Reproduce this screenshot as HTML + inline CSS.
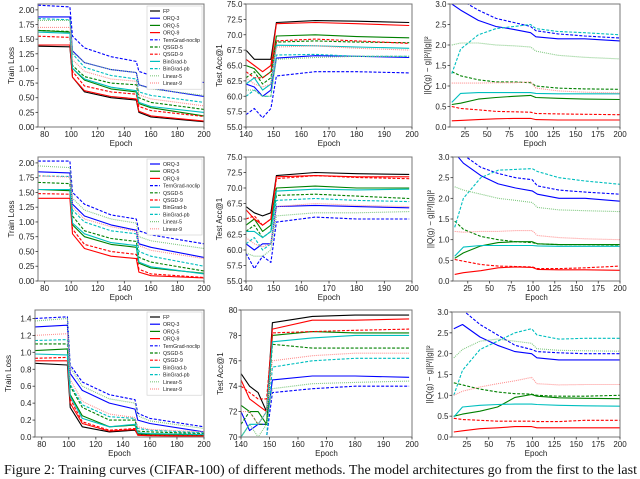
<!DOCTYPE html>
<html><head><meta charset="utf-8">
<style>
html,body{margin:0;padding:0;background:#fff;width:640px;height:472px;overflow:hidden}
svg{display:block;font-family:"Liberation Sans",sans-serif}
.cap{position:absolute;left:4px;top:463px;font-family:"Liberation Serif",serif;font-size:14px;white-space:nowrap;color:#111}
</style></head>
<body>
<svg id="fig" width="640" height="472" viewBox="0 0 640 472"></svg>
<div class="cap">Figure 2: Training curves (CIFAR-100) of different methods. The model architectures go from the first to the last</div>
<script>
// ---- shared x grids ----
const lossEpochs = [75, 99, 101, 110, 130, 149, 151, 160, 200];
const accEpochs = [140, 143, 146, 149, 151, 165, 180, 199];
const varEpochs = [10, 20, 40, 60, 80, 99, 105, 130, 160, 200];

// ---- tick labels ----
const lossXTicks = [80, 100, 120, 140, 160, 180, 200];
const lossYTicksA = [0, 0.25, 0.5, 0.75, 1.0, 1.25, 1.5, 1.75, 2.0];
const lossYTicksC = [0, 0.2, 0.4, 0.6, 0.8, 1.0, 1.2, 1.4];
const accXTicks = [140, 150, 160, 170, 180, 190, 200];
const accYTicksA = [55, 57.5, 60, 62.5, 65, 67.5, 70, 72.5, 75];
const accYTicksC = [70, 72, 74, 76, 78, 80];
const varXTicks = [25, 50, 75, 100, 125, 150, 175, 200];
const varYTicks = [0, 0.5, 1.0, 1.5, 2.0, 2.5, 3.0];

const seriesNames = ["FP","ORQ-3","ORQ-5","ORQ-9","TernGrad-noclip","QSGD-5","QSGD-9","BinGrad-b","BinGrad-pb","Linear-5","Linear-9"];

// ---- Row 1 ----
const r1Loss = {
 "FP":[1.38,1.37,0.85,0.6,0.5,0.46,0.25,0.17,0.09],
 "ORQ-3":[1.88,1.88,1.3,1.1,0.98,0.93,0.72,0.66,0.52],
 "ORQ-5":[1.65,1.62,1.0,0.8,0.65,0.6,0.4,0.33,0.19],
 "ORQ-9":[1.40,1.40,0.85,0.62,0.52,0.48,0.27,0.19,0.1],
 "TernGrad-noclip":[2.08,2.05,1.55,1.35,1.2,1.12,0.95,0.88,0.76],
 "QSGD-5":[1.65,1.63,1.05,0.86,0.75,0.72,0.5,0.42,0.3],
 "QSGD-9":[1.55,1.53,0.95,0.7,0.6,0.56,0.35,0.28,0.18],
 "BinGrad-b":[1.62,1.6,1.0,0.82,0.68,0.62,0.42,0.35,0.25],
 "BinGrad-pb":[1.85,1.83,1.25,1.02,0.88,0.82,0.6,0.54,0.42],
 "Linear-5":[1.82,1.82,1.28,1.1,0.98,0.93,0.72,0.65,0.54],
 "Linear-9":[1.7,1.7,1.15,0.95,0.82,0.78,0.55,0.48,0.36]
};
const r1Acc = {
 "FP":[67.5,66,66,66,72,72.3,72.2,72],
 "ORQ-3":[62,61.5,60,61,66.2,66.6,66.5,66.3],
 "ORQ-5":[65,64.5,63,64,69.8,70,69.7,69.5],
 "ORQ-9":[66,65,64,65,71.8,72,71.8,71.5],
 "TernGrad-noclip":[57,58,56.5,58,63.3,64,64,63.8],
 "QSGD-5":[63,64,62,63,68.8,69,68.8,68.7],
 "QSGD-9":[64,63,63,64,69,69.3,69,68.6],
 "BinGrad-b":[62,63,61,62,68.3,68.2,68,67.8],
 "BinGrad-pb":[60,61,60,60,66.7,66.8,66.5,66.5],
 "Linear-5":[61,61,60,60,66,66.3,66.5,66.5],
 "Linear-9":[63,62,61.5,62,68,68.2,67.8,67.5]
};
const r1Var = {
 "ORQ-3":[3.0,2.85,2.6,2.45,2.38,2.3,2.2,2.15,2.15,2.1],
 "TernGrad-noclip":[3.3,3.1,2.85,2.65,2.55,2.45,2.35,2.27,2.22,2.17],
 "BinGrad-pb":[1.3,1.9,2.25,2.4,2.45,2.5,2.4,2.33,2.3,2.25],
 "Linear-5":[2.0,2.05,2.05,2.0,1.98,1.95,1.85,1.75,1.7,1.66],
 "QSGD-5":[1.35,1.25,1.15,1.1,1.1,1.08,1.0,0.95,0.93,0.92],
 "Linear-9":[1.07,1.07,1.07,1.08,1.08,1.1,0.95,0.88,0.85,0.83],
 "BinGrad-b":[0.6,0.82,0.84,0.84,0.84,0.84,0.82,0.81,0.81,0.81],
 "ORQ-5":[0.55,0.58,0.68,0.72,0.75,0.77,0.72,0.7,0.68,0.67],
 "QSGD-9":[0.5,0.45,0.42,0.38,0.37,0.36,0.33,0.32,0.31,0.3],
 "ORQ-9":[0.15,0.16,0.18,0.2,0.21,0.21,0.18,0.17,0.17,0.17]
};

// ---- Row 2 ----
const r2Loss = {
 "ORQ-3":[1.85,1.83,1.3,1.1,0.95,0.86,0.63,0.57,0.4],
 "ORQ-5":[1.55,1.53,0.95,0.75,0.62,0.57,0.3,0.22,0.13],
 "ORQ-9":[1.4,1.4,0.8,0.55,0.42,0.38,0.15,0.09,0.05],
 "TernGrad-noclip":[2.03,2.03,1.5,1.3,1.12,1.05,0.85,0.78,0.63],
 "QSGD-5":[1.67,1.65,1.1,0.85,0.72,0.67,0.4,0.32,0.17],
 "QSGD-9":[1.48,1.47,0.88,0.62,0.5,0.45,0.2,0.12,0.06],
 "BinGrad-b":[1.55,1.55,0.98,0.8,0.65,0.6,0.32,0.24,0.12],
 "BinGrad-pb":[1.78,1.77,1.2,1.0,0.85,0.8,0.5,0.42,0.25],
 "Linear-5":[1.95,1.92,1.4,1.2,1.05,0.98,0.75,0.68,0.55],
 "Linear-9":[1.78,1.76,1.25,1.05,0.92,0.84,0.6,0.52,0.38]
};
const r2Acc = {
 "FP":[67,66,65.5,66,72,72.5,72.3,72.2],
 "ORQ-3":[61,60,61,61,67,67.2,67,66.8],
 "ORQ-5":[64,65,63,64,70,70.3,70,70],
 "ORQ-9":[66.5,65,64,65,71.8,72,71.8,71.8],
 "TernGrad-noclip":[59.5,57,59,58,64.5,65.3,65,65],
 "QSGD-5":[63,64,62,63,68.8,69,68.7,68.3],
 "QSGD-9":[65,65.5,64,65,71.5,72,71.7,71.5],
 "BinGrad-b":[63,63,62,63,69.5,69.8,69.7,69.8],
 "BinGrad-pb":[61,62,60,61,68,68.3,68,67.8],
 "Linear-5":[59.5,59,59,60,65.5,66,66,66.2],
 "Linear-9":[62,61,60.5,61,67,67.5,67.2,67]
};
const r2Var = {
 "ORQ-3":[3.1,2.85,2.55,2.35,2.25,2.18,2.1,2.0,2.0,1.93],
 "TernGrad-noclip":[3.3,3.05,2.75,2.6,2.5,2.45,2.3,2.2,2.15,2.1],
 "BinGrad-pb":[1.3,2.0,2.5,2.68,2.7,2.72,2.65,2.5,2.42,2.34],
 "Linear-5":[2.28,2.2,2.1,2.0,1.95,1.9,1.78,1.72,1.7,1.68],
 "QSGD-5":[1.45,1.25,1.08,1.0,0.95,0.93,0.9,0.88,0.88,0.87],
 "Linear-9":[1.2,1.18,1.2,1.2,1.22,1.22,1.1,1.05,1.02,1.0],
 "BinGrad-b":[0.6,0.82,0.86,0.86,0.86,0.86,0.85,0.84,0.84,0.84],
 "ORQ-5":[0.55,0.68,0.85,0.93,0.95,0.95,0.9,0.88,0.88,0.88],
 "QSGD-9":[0.52,0.48,0.4,0.36,0.35,0.34,0.3,0.3,0.32,0.36],
 "ORQ-9":[0.16,0.2,0.25,0.32,0.34,0.33,0.28,0.27,0.27,0.26]
};

// ---- Row 3 ----
const r3Loss = {
 "FP":[0.87,0.85,0.35,0.12,0.06,0.08,0.03,0.02,0.01],
 "ORQ-3":[1.3,1.32,0.75,0.55,0.4,0.33,0.2,0.16,0.06],
 "ORQ-5":[1.02,1.04,0.5,0.25,0.12,0.14,0.04,0.03,0.02],
 "ORQ-9":[0.9,0.9,0.4,0.16,0.07,0.09,0.02,0.015,0.01],
 "TernGrad-noclip":[1.4,1.42,0.85,0.65,0.5,0.44,0.28,0.22,0.12],
 "QSGD-5":[1.1,1.1,0.6,0.35,0.2,0.2,0.07,0.06,0.04],
 "QSGD-9":[0.93,0.94,0.45,0.18,0.08,0.1,0.025,0.02,0.015],
 "BinGrad-b":[0.98,0.97,0.48,0.22,0.12,0.15,0.05,0.04,0.03],
 "BinGrad-pb":[1.14,1.15,0.62,0.38,0.24,0.22,0.1,0.08,0.05],
 "Linear-5":[1.37,1.4,0.82,0.6,0.45,0.4,0.25,0.19,0.1],
 "Linear-9":[1.2,1.22,0.68,0.42,0.27,0.23,0.12,0.09,0.06]
};
const r3Acc = {
 "FP":[75,74,73.5,72,79,79.5,79.6,79.6],
 "ORQ-3":[72,70.5,71,71,74.5,74.8,74.8,74.7],
 "ORQ-5":[72.5,72,72,71,78,78.3,78.2,78.2],
 "ORQ-9":[74.5,73,72.5,72,78.5,79.2,79.2,79.3],
 "TernGrad-noclip":[70,70,70,70,73.5,73.8,74,74],
 "QSGD-5":[71,72,71,71,77.3,77,77,77],
 "QSGD-9":[74,73.5,73,73,78.2,78.3,78.4,78.5],
 "BinGrad-b":[70,71,71,72,77.5,77.8,78,78],
 "BinGrad-pb":[70,70,70,70,75.5,76,76.2,76.2],
 "Linear-5":[70,71,70,71,73.8,74.2,74.3,74.4],
 "Linear-9":[72,72,71,72,76,76.4,76.6,76.6]
};
const r3Var = {
 "ORQ-3":[2.6,2.7,2.4,2.2,2.05,2.0,1.9,1.85,1.85,1.85],
 "TernGrad-noclip":[3.3,3.05,2.7,2.45,2.2,2.1,2.05,2.02,2.0,2.0],
 "BinGrad-pb":[1.0,1.6,2.1,2.3,2.5,2.6,2.45,2.35,2.37,2.37],
 "Linear-5":[1.9,2.1,2.3,2.35,2.3,2.25,2.12,2.08,2.07,2.06],
 "QSGD-5":[1.3,1.25,1.15,1.08,1.04,1.03,1.0,0.98,0.98,1.0],
 "Linear-9":[1.0,1.1,1.2,1.28,1.35,1.43,1.28,1.25,1.26,1.26],
 "BinGrad-b":[0.48,0.72,0.76,0.78,0.79,0.79,0.78,0.76,0.75,0.74],
 "ORQ-5":[0.5,0.55,0.62,0.72,0.95,1.02,0.98,0.94,0.93,0.92],
 "QSGD-9":[0.45,0.42,0.4,0.38,0.38,0.38,0.37,0.37,0.4,0.4],
 "ORQ-9":[0.12,0.15,0.2,0.22,0.25,0.25,0.22,0.22,0.22,0.22]
};

const styles = {
 "FP":{c:"#000000",d:""},
 "ORQ-3":{c:"#0000ff",d:""},
 "ORQ-5":{c:"#008000",d:""},
 "ORQ-9":{c:"#ff0000",d:""},
 "TernGrad-noclip":{c:"#0000ff",d:"3,1.6"},
 "QSGD-5":{c:"#008000",d:"3,1.6"},
 "QSGD-9":{c:"#ff0000",d:"3,1.6"},
 "BinGrad-b":{c:"#00bfbf",d:""},
 "BinGrad-pb":{c:"#00bfbf",d:"3,1.6"},
 "Linear-5":{c:"#80c880",d:"1,1"},
 "Linear-9":{c:"#ff9090",d:"1,1"}
};

const NS = "http://www.w3.org/2000/svg";
const svg = document.getElementById("fig");
function el(tag, attrs, parent) {
  const e = document.createElementNS(NS, tag);
  for (const k in attrs) e.setAttribute(k, attrs[k]);
  (parent || svg).appendChild(e);
  return e;
}
function fmt(v, dec) { return v.toFixed(dec); }

function panel(p) {
  const g = el("g", {});
  
  
  const sx = v => p.x0 + (v - p.xmin) / (p.xmax - p.xmin) * (p.x1 - p.x0);
  const sy = v => p.y1 - (v - p.ymin) / (p.ymax - p.ymin) * (p.y1 - p.y0);
  const clipId = "clip-" + p.name;
  const cp = el("clipPath", {id: clipId}, g);
  el("rect", {x: p.x0, y: p.y0, width: p.x1 - p.x0, height: p.y1 - p.y0}, cp);
  const lines = el("g", {"clip-path": "url(#" + clipId + ")"}, g);
  for (const name of seriesNames) {
    const vals = p.data[name];
    if (!vals) continue;
    const pts = vals.map((v, i) => sx(p.xs[i]).toFixed(1) + "," + sy(v).toFixed(1)).join(" ");
    const pl = el("polyline", {points: pts, fill: "none", stroke: styles[name].c, "stroke-width": 1.1, "stroke-dasharray": styles[name].d, "stroke-linejoin": "round"}, lines);
    
    
  }
  const frame = el("rect", {x: p.x0, y: p.y0, width: p.x1 - p.x0, height: p.y1 - p.y0, fill: "none", stroke: "#777", "stroke-width": 1}, g);
  
  
  for (const t of p.xt) {
    const x = sx(t);
    el("line", {x1: x, x2: x, y1: p.y1, y2: p.y1 + 2.5, stroke: "#333", "stroke-width": 0.8}, g);
    const tx = el("text", {x: x, y: p.y1 + 10, "font-size": 8, "text-anchor": "middle", fill: "#222"}, g);
    tx.textContent = t;
    
    
  }
  for (const t of p.yt) {
    const y = sy(t);
    el("line", {x1: p.x0 - 2.5, x2: p.x0, y1: y, y2: y, stroke: "#333", "stroke-width": 0.8}, g);
    const ty = el("text", {x: p.x0 - 3.5, y: y + 3, "font-size": 8, "text-anchor": "end", fill: "#222"}, g);
    ty.textContent = fmt(t, p.ydec);
    
    
  }
  const xl = el("text", {x: (p.x0 + p.x1) / 2, y: p.y1 + 19, "font-size": 8, "text-anchor": "middle", fill: "#222"}, g);
  xl.textContent = "Epoch";
  
  
  const ylx = p.x0 - p.ylOff, yly = (p.y0 + p.y1) / 2;
  const yl = el("text", {x: ylx, y: yly, "font-size": 8, "text-anchor": "middle", fill: "#222", transform: "rotate(-90 " + ylx + " " + yly + ")"}, g);
  yl.textContent = p.ylabel;
  
  
  if (p.legend) {
    const names = seriesNames.filter(n => p.data[n]);
    const lg = el("g", {}, g);
    
    
    const lx = p.x1 - 57, ly = p.y0 + 2, h = names.length * 7.2 + 4;
    el("rect", {x: lx, y: ly, width: 55, height: h, fill: "#fff", stroke: "#ccc", "stroke-width": 0.6}, lg);
    names.forEach((n, i) => {
      const yy = ly + 5 + i * 7.2;
      const ent = el("g", {}, lg);
      
      
      el("line", {x1: lx + 3, x2: lx + 13, y1: yy, y2: yy, stroke: styles[n].c, "stroke-width": 1.2, "stroke-dasharray": styles[n].d}, ent);
      const t = el("text", {x: lx + 16, y: yy + 2, "font-size": 5.2, fill: "#222"}, ent);
      t.textContent = n;
    });
  }
}

const rows = [
 {y0: 4, y1: 127, loss: r1Loss, acc: r1Acc, v: r1Var, lyt: lossYTicksA, lmax: 2.1, ldec: 2, lx0: 38, ayt: accYTicksA, amin: 55, amax: 75, adec: 1, mx0: 246, legend: true, rx0: 450},
 {y0: 157, y1: 281, loss: r2Loss, acc: r2Acc, v: r2Var, lyt: lossYTicksA, lmax: 2.1, ldec: 2, lx0: 38, ayt: accYTicksA, amin: 55, amax: 75, adec: 1, mx0: 246, legend: true, rx0: 453},
 {y0: 310, y1: 437, loss: r3Loss, acc: r3Acc, v: r3Var, lyt: lossYTicksC, lmax: 1.5, ldec: 1, lx0: 35, ayt: accYTicksC, amin: 70, amax: 80, adec: 0, mx0: 241, legend: true, rx0: 452}
];
rows.forEach((r, i) => {
  panel({name: "train-loss-row" + (i + 1), x0: r.lx0, x1: 204, y0: r.y0, y1: r.y1, xmin: 75, xmax: 200, ymin: 0, ymax: r.lmax,
    xs: lossEpochs, data: r.loss, xt: lossXTicks, yt: r.lyt, ydec: r.ldec, ylabel: "Train Loss", ylOff: 24, legend: r.legend});
  panel({name: "test-acc-row" + (i + 1), x0: r.mx0, x1: 412, y0: r.y0, y1: r.y1, xmin: 140, xmax: 200, ymin: r.amin, ymax: r.amax,
    xs: accEpochs, data: r.acc, xt: accXTicks, yt: r.ayt, ydec: r.adec, ylabel: "Test Acc@1", ylOff: r.adec ? 24 : 18, legend: false});
  panel({name: "quant-error-row" + (i + 1), x0: r.rx0, x1: 620, y0: i == 2 ? 312 : r.y0, y1: r.y1, xmin: 8, xmax: 200, ymin: 0, ymax: 3,
    xs: varEpochs, data: r.v, xt: varXTicks, yt: varYTicks, ydec: 1, ylabel: "||Q(g) − g||²/||g||²", ylOff: 20, legend: false});
});
</script>
</body></html>
